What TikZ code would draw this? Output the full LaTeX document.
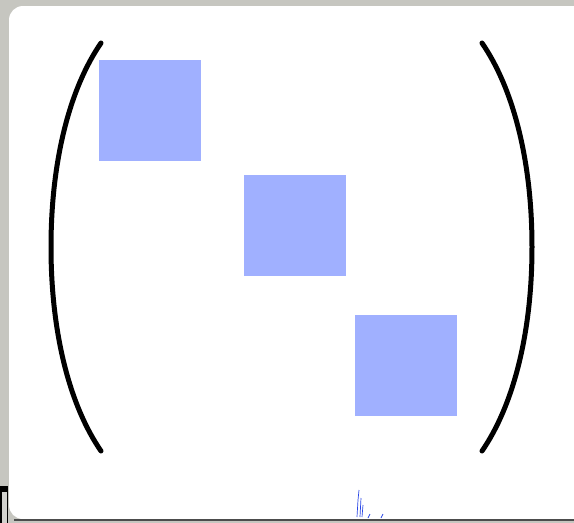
\documentclass[tikz,border=0pt]{standalone}
\begin{document}
\begin{tikzpicture}[x=1pt,y=-1pt,
  sq/.style={fill=blockblue,draw=none},
  paren/.style={draw=black,line width=5pt,line cap=round}]
\definecolor{blockblue}{RGB}{160,176,255}
\definecolor{paper}{RGB}{198,198,192}
\definecolor{scribble}{RGB}{40,70,230}
\useasboundingbox (0,0) rectangle (574,523);
% background paper
\fill[paper] (0,0) rectangle (574,523);
\fill[white,rounded corners=14pt] (9,6) rectangle (590,519);
% ragged dark bottom edge
\draw[black!70,line width=2.5pt] (14,520) -- (574,520);
\fill[black] (0,486) rectangle (8,523);
\fill[paper!80] (2,492) rectangle (7,523);
% blue scribble
\draw[scribble,line width=0.7pt] (357,517) -- (358,500) -- (359,490) (360,517) -- (361,498) (362,517) -- (363,505) (368,518) -- (370,514) (383,514) -- (381,518);
% squares
\fill[sq] (99,60) rectangle (201,161);
\fill[sq] (244,175) rectangle (346,276);
\fill[sq] (355,315) rectangle (457,416);
% left parenthesis
\draw[paren] (101,43)
  .. controls (70,88) and (51,160) .. (51,247)
  .. controls (51,334) and (70,406) .. (101,451);
% right parenthesis
\draw[paren] (482,43)
  .. controls (513,88) and (532,160) .. (532,247)
  .. controls (532,334) and (513,406) .. (482,451);
\end{tikzpicture}
\end{document}
